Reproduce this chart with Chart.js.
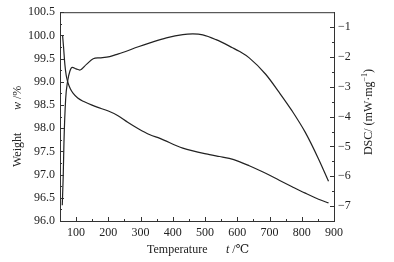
<!DOCTYPE html>
<html>
<head>
<meta charset="utf-8">
<script src="https://cdn.jsdelivr.net/npm/chart.js@4.4.1/dist/chart.umd.min.js"></script>
<style>
  html, body { margin: 0; padding: 0; background: #fff; }
</style>
</head>
<body>
<canvas id="c" width="394" height="262"></canvas>
<script>
// weight (TG) curve, left axis
var tempW = [58, 61, 65, 69, 74, 82, 91, 105, 122, 163, 200, 230, 260, 293, 329, 360, 431, 514, 545, 575, 606, 637, 688, 730, 770, 811, 852, 883];
var weight = [100.0, 99.75, 99.38, 99.15, 99.0, 98.85, 98.75, 98.65, 98.58, 98.46, 98.37, 98.27, 98.13, 97.99, 97.86, 97.78, 97.57, 97.43, 97.39, 97.35, 97.28, 97.19, 97.03, 96.88, 96.74, 96.6, 96.47, 96.39];

// DSC curve, right axis
var tempD = [57, 60, 62.3, 67.5, 73.7, 80.8, 88, 100, 111.5, 132, 153, 173, 204, 224, 242, 293, 329, 380, 431, 462, 493, 534, 585, 606, 637, 688, 730, 770, 811, 852, 883];
var dsc = [-6.97, -6.0, -4.86, -3.42, -2.81, -2.47, -2.35, -2.4, -2.44, -2.25, -2.06, -2.03, -1.99, -1.92, -1.86, -1.66, -1.53, -1.36, -1.25, -1.23, -1.26, -1.42, -1.69, -1.81, -2.03, -2.58, -3.19, -3.81, -4.53, -5.42, -6.17];

var xTicks = [100, 200, 300, 400, 500, 600, 700, 800, 900];
var wTicks = [96.0, 96.5, 97.0, 97.5, 98.0, 98.5, 99.0, 99.5, 100.0, 100.5];
var dscTicks = [-7, -6, -5, -4, -3, -2, -1];

var FONT = "'Liberation Serif', 'DejaVu Serif', serif";
var INK = '#222';

function pts(xs, ys) {
    return xs.map(function (x, i) { return {x: x, y: ys[i]}; });
}

Chart.defaults.font.family = FONT;
Chart.defaults.font.size = 12;
Chart.defaults.color = INK;

// tick marks (inward), frame top line and axis titles
var decorations = {
    id: 'decorations',
    afterDraw: function (chart) {
        var ctx = chart.ctx;
        var a = chart.chartArea;
        var sx = chart.scales.x, sy = chart.scales.y, sy1 = chart.scales.y1;
        ctx.save();
        ctx.strokeStyle = '#333';
        ctx.lineWidth = 1;
        ctx.beginPath();
        ctx.moveTo(a.left, a.top + 0.5);
        ctx.lineTo(a.right, a.top + 0.5);
        var v, p, len;
        for (v = 50; v <= 900; v += 50) {
            p = Math.round(sx.getPixelForValue(v)) + 0.5;
            len = (v % 100 === 0) ? 4 : 2;
            ctx.moveTo(p, a.bottom);
            ctx.lineTo(p, a.bottom - len);
        }
        for (v = 96; v <= 100.5001; v += 0.25) {
            p = Math.round(sy.getPixelForValue(v)) + 0.5;
            len = (Math.abs(v * 2 - Math.round(v * 2)) < 1e-6) ? 4 : 2;
            ctx.moveTo(a.left, p);
            ctx.lineTo(a.left + len, p);
        }
        for (v = -7.5; v <= -0.5001; v += 0.5) {
            p = Math.round(sy1.getPixelForValue(v)) + 0.5;
            len = (v % 1 === 0) ? 4 : 2;
            ctx.moveTo(a.right, p);
            ctx.lineTo(a.right - len, p);
        }
        ctx.stroke();

        ctx.fillStyle = INK;
        ctx.textBaseline = 'alphabetic';
        ctx.textAlign = 'left';
        var normal = '12px ' + FONT, italic = 'italic 12px ' + FONT, small = '8px ' + FONT;

        // x title
        ctx.font = normal;
        ctx.fillText('Temperature', 147, 253);
        ctx.font = italic;
        ctx.fillText('t', 226, 253);
        var tw = ctx.measureText('t').width;
        ctx.font = normal;
        ctx.fillText(' /\u2103', 226 + tw, 253);

        // left title
        ctx.save();
        ctx.translate(21, 0);
        ctx.rotate(-Math.PI / 2);
        ctx.font = normal;
        ctx.fillText('Weight', -167, 0);
        ctx.font = italic;
        ctx.fillText('w', -110, 0);
        var ww = ctx.measureText('w').width;
        ctx.font = normal;
        ctx.fillText(' /%', -110 + ww, 0);
        ctx.restore();

        // right title
        ctx.save();
        ctx.translate(372, 0);
        ctx.rotate(-Math.PI / 2);
        var s1 = 'DSC/ (mW\u00b7mg', s2 = '\u22121', s3 = ')';
        ctx.font = normal;
        var w1 = ctx.measureText(s1).width, w3 = ctx.measureText(s3).width;
        ctx.font = small;
        var w2 = ctx.measureText(s2).width;
        var start = -112 - (w1 + w2 + w3) / 2;
        ctx.font = normal;
        ctx.fillText(s1, start, 0);
        ctx.font = small;
        ctx.fillText(s2, start + w1, -5);
        ctx.font = normal;
        ctx.fillText(s3, start + w1 + w2, 0);
        ctx.restore();

        ctx.restore();
    }
};

new Chart(document.getElementById('c').getContext('2d'), {
    type: 'line',
    data: {
        datasets: [{
            label: 'Weight',
            data: pts(tempW, weight),
            yAxisID: 'y',
            borderColor: INK,
            borderWidth: 1.2,
            pointRadius: 0,
            fill: false,
            cubicInterpolationMode: 'monotone'
        }, {
            label: 'DSC',
            data: pts(tempD, dsc),
            yAxisID: 'y1',
            borderColor: INK,
            borderWidth: 1.2,
            pointRadius: 0,
            fill: false,
            cubicInterpolationMode: 'monotone'
        }]
    },
    options: {
        responsive: false,
        animation: false,
        devicePixelRatio: 1,
        layout: {padding: {top: 12, left: 0, right: 0, bottom: 0}},
        plugins: {legend: {display: false}, tooltip: {enabled: false}},
        scales: {
            x: {
                type: 'linear',
                min: 50,
                max: 900,
                afterBuildTicks: function (s) { s.ticks = xTicks.map(function (v) { return {value: v}; }); },
                afterFit: function (s) { s.height = 41; },
                ticks: {padding: 5, maxRotation: 0, autoSkip: false},
                grid: {drawOnChartArea: false, drawTicks: false},
                border: {color: '#333'}
            },
            y: {
                position: 'left',
                min: 96,
                max: 100.5,
                afterBuildTicks: function (s) { s.ticks = wTicks.map(function (v) { return {value: v}; }); },
                afterFit: function (s) { s.width = 60; },
                ticks: {padding: 5, callback: function (v) { return v.toFixed(1); }},
                grid: {drawOnChartArea: false, drawTicks: false},
                border: {color: '#333'}
            },
            y1: {
                position: 'right',
                min: -7.5,
                max: -0.5,
                afterBuildTicks: function (s) { s.ticks = dscTicks.map(function (v) { return {value: v}; }); },
                afterFit: function (s) { s.width = 60; },
                ticks: {padding: 4, callback: function (v) { return '\u2212' + Math.abs(v); }},
                grid: {drawOnChartArea: false, drawTicks: false},
                border: {color: '#333'}
            }
        }
    },
    plugins: [decorations]
});
</script>
</body>
</html>
